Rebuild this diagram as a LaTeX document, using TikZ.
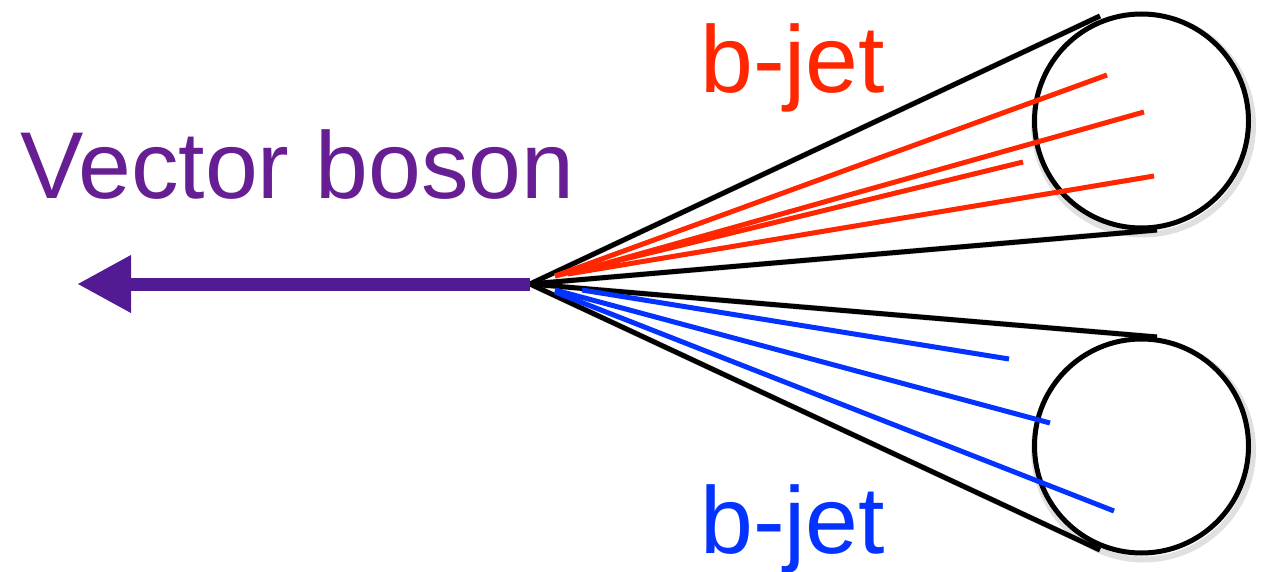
\documentclass[tikz,border=0pt]{standalone}
\usepackage{fontspec}
\setmainfont{Liberation Sans}
\usetikzlibrary{arrows.meta}
\definecolor{vpurple}{HTML}{531B93}
\definecolor{tpurple}{HTML}{661E92}
\definecolor{jred}{HTML}{FF2600}
\definecolor{jblue}{HTML}{0433FF}
\tikzset{
  cone/.style={line width=5pt, black, line cap=butt},
  jetcircle/.style={circle, draw=black, line width=5pt, fill=white, minimum size=214pt, inner sep=0pt},
  redtrack/.style={line width=5pt, jred},
  bluetrack/.style={line width=5pt, jblue},
  shade/.style={line width=6pt, black, opacity=0.12},
  label/.style={font=\fontsize{95}{95}\selectfont, inner sep=0pt, anchor=base west},
  boson/.style={line width=13pt, vpurple, -{Triangle[length=54pt,width=54pt]}}
}
\begin{document}
\begin{tikzpicture}[x=1pt,y=-1pt]
\useasboundingbox (0,0) rectangle (1274,572);
% key points
\coordinate (v) at (530,284);
\coordinate (tip) at (77,284);
\coordinate (t1) at (1100,16);
\coordinate (t2) at (1157,230);
\coordinate (t3) at (1157,337);
\coordinate (t4) at (1100,550);
% shadows
\begin{scope}[shift={(2,4)}]
\draw[shade] (v) -- (t1);
\draw[shade] (v) -- (t2);
\draw[shade] (v) -- (t3);
\draw[shade] (v) -- (t4);
\draw[shade] (1141.5,121) circle (109.5);
\draw[shade] (1141.5,446) circle (109.5);
\end{scope}
% circles
\node[jetcircle] (c1) at (1141.5,121) {};
\node[jetcircle] (c2) at (1141.5,446) {};
% cone edges
\draw[cone] (v) -- (t1);
\draw[cone] (v) -- (t2);
\draw[cone] (v) -- (t3);
\draw[cone] (v) -- (t4);
% red tracks
\coordinate (rs1) at (555,276);
\coordinate (rs2) at (568,274);
\coordinate (re1) at (1107,75);
\coordinate (re2) at (1144,112);
\coordinate (re3) at (1023,162);
\coordinate (re4) at (1154,176);
\draw[redtrack] (rs1) -- (re1);
\draw[redtrack] (rs2) -- (re2);
\draw[redtrack] (rs1) -- (re3);
\draw[redtrack] (rs2) -- (re4);
% blue tracks
\coordinate (bs1) at (582,290);
\coordinate (bs2) at (555,290);
\coordinate (bs3) at (555,292);
\coordinate (be1) at (1009,359);
\coordinate (be2) at (1050,423);
\coordinate (be3) at (1114,511);
\draw[bluetrack] (bs1) -- (be1);
\draw[bluetrack] (bs2) -- (be2);
\draw[bluetrack] (bs3) -- (be3);
% vector boson arrow
\draw[boson] (v) -- (tip);
% labels
\node[label, text=tpurple] (vb) at (20,199) {Vector boson};
\node[label, text=jred] (bj1) at (700,93) {b-jet};
\node[label, text=jblue] (bj2) at (700,553) {b-jet};
\end{tikzpicture}
\end{document}
